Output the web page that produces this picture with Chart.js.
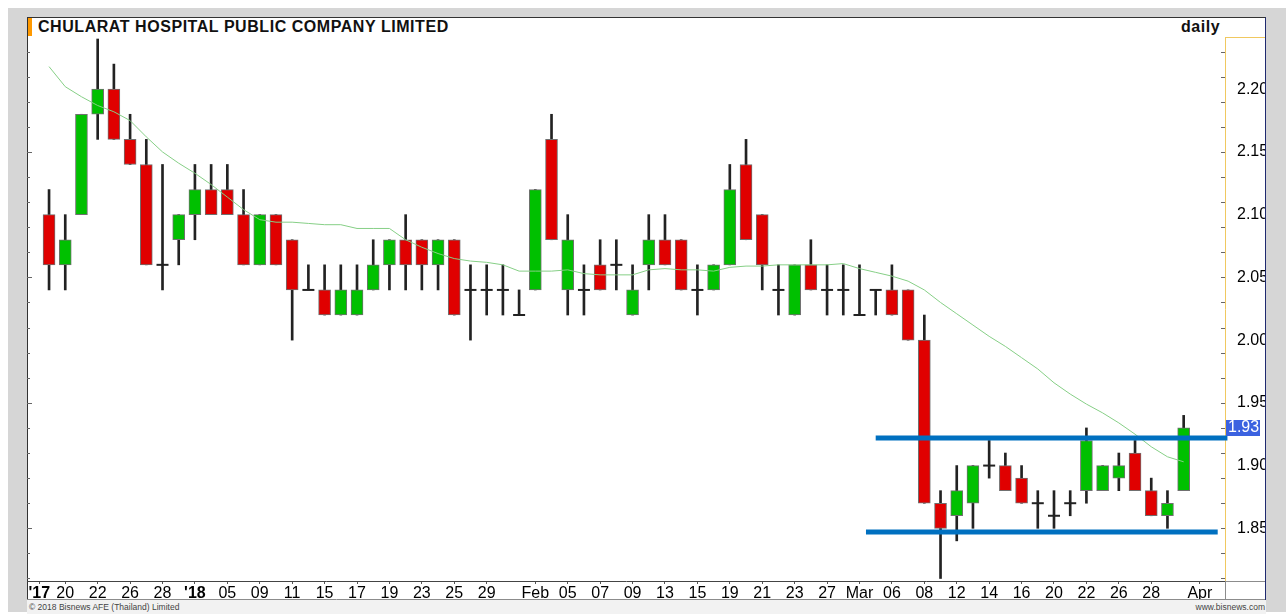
<!DOCTYPE html>
<html>
<head>
<meta charset="utf-8">
<title>CHULARAT HOSPITAL PUBLIC COMPANY LIMITED - daily</title>
<style>
  body { margin: 0; background: #fff; font-family: "Liberation Sans", Arial, sans-serif; }
  #frame { position: absolute; left: 8px; top: 8px; width: 1278px; height: 604px; background: #d6d6d6; }
  #panel { position: absolute; left: 27px; top: 17px; width: 1237px; height: 582px; background: #fff;
           border-top: 1px solid #333; border-left: 1px solid #333; border-right: 1px solid #1f2a70; }
  #bar { position: absolute; left: 28px; top: 18px; width: 4px; height: 18px; background: #ff9900; }
  .head { position: absolute; top: 18px; line-height: 18px; font-size: 16px; font-weight: bold;
          letter-spacing: 0.55px; color: #111; white-space: nowrap; }
  #foot { position: absolute; left: 27px; top: 600px; width: 1239px; height: 14px; background: #f2f2f2;
          font-size: 8.5px; line-height: 14px; color: #444; }
  #foot span { position: absolute; top: 0; }
  canvas { position: absolute; left: 0; top: 0; }
</style>
</head>
<body>
<div id="frame"></div>
<div id="panel"></div>
<div id="bar"></div>
<div class="head" style="left:38px">CHULARAT HOSPITAL PUBLIC COMPANY LIMITED</div>
<div class="head" style="left:1181px">daily</div>
<div id="foot"><span style="left:2px">© 2018 Bisnews AFE (Thailand) Limited</span><span style="right:1px">www.bisnews.com</span></div>
<canvas id="chart" width="1286" height="614"></canvas>
<script src="https://cdn.jsdelivr.net/npm/chart.js"></script>
<script>
// daily OHLC, 19 Dec 2017 .. 30 Mar 2018 (one entry per trading day)
const opens = [2.10,2.06,2.10,2.18,2.20,2.16,2.14,2.06,2.08,2.10,
  2.12,2.12,2.10,2.06,2.10,2.08,2.04,2.04,2.02,2.02,
  2.04,2.06,2.08,2.08,2.06,2.08,2.04,2.04,2.04,2.02,
  2.04,2.16,2.04,2.04,2.06,2.06,2.02,2.06,2.08,2.08,
  2.04,2.04,2.06,2.14,2.10,2.04,2.02,2.06,2.04,2.04,
  2.02,2.04,2.04,2.04,2.00,1.87,1.86,1.87,1.90,1.90,
  1.89,1.87,1.86,1.87,1.88,1.88,1.89,1.91,1.88,1.86,1.88];
const highs = [2.12,2.10,2.18,2.24,2.22,2.18,2.16,2.14,2.10,2.14,
  2.14,2.14,2.12,2.10,2.10,2.08,2.06,2.06,2.06,2.06,
  2.08,2.08,2.10,2.08,2.08,2.08,2.06,2.06,2.06,2.04,
  2.12,2.18,2.10,2.06,2.08,2.08,2.06,2.10,2.10,2.08,
  2.06,2.06,2.14,2.16,2.10,2.06,2.06,2.08,2.06,2.06,
  2.06,2.04,2.06,2.04,2.02,1.88,1.90,1.90,1.92,1.91,
  1.90,1.88,1.88,1.88,1.93,1.90,1.91,1.92,1.89,1.88,1.94];
const lows = [2.04,2.04,2.10,2.16,2.16,2.14,2.06,2.04,2.06,2.08,
  2.10,2.10,2.06,2.06,2.06,2.00,2.04,2.02,2.02,2.02,
  2.04,2.04,2.04,2.04,2.04,2.02,2.00,2.02,2.02,2.02,
  2.04,2.08,2.02,2.02,2.04,2.04,2.02,2.04,2.06,2.04,
  2.02,2.04,2.06,2.08,2.04,2.02,2.02,2.04,2.02,2.02,
  2.02,2.02,2.02,2.00,1.87,1.81,1.84,1.85,1.89,1.88,
  1.87,1.85,1.85,1.86,1.87,1.88,1.88,1.88,1.86,1.85,1.88];
const closes = [2.06,2.08,2.18,2.20,2.16,2.14,2.06,2.06,2.10,2.12,
  2.10,2.10,2.06,2.10,2.06,2.04,2.04,2.02,2.04,2.04,
  2.06,2.08,2.06,2.06,2.08,2.02,2.04,2.04,2.04,2.02,
  2.12,2.08,2.08,2.04,2.04,2.06,2.04,2.08,2.06,2.04,
  2.04,2.06,2.12,2.08,2.06,2.04,2.06,2.04,2.04,2.04,
  2.02,2.04,2.02,2.00,1.87,1.85,1.88,1.90,1.90,1.88,
  1.87,1.87,1.86,1.87,1.92,1.90,1.90,1.88,1.86,1.87,1.93];
// moving average line
const movAvg = [2.218,2.202,2.194,2.187,2.182,2.175,2.162,2.150,2.141,2.133,
  2.124,2.114,2.104,2.096,2.094,2.094,2.093,2.092,2.092,2.089,
  2.089,2.089,2.080,2.074,2.069,2.065,2.063,2.062,2.060,2.055,
  2.055,2.055,2.056,2.053,2.052,2.052,2.052,2.056,2.057,2.056,
  2.056,2.055,2.058,2.059,2.059,2.060,2.060,2.060,2.060,2.061,
  2.057,2.054,2.051,2.047,2.040,2.030,2.021,2.012,2.003,1.995,
  1.986,1.977,1.966,1.957,1.949,1.942,1.934,1.925,1.915,1.907,1.903];

// hand-drawn resistance / support lines (x in trading-day index)
const upperX = [51.0, 72.7], upperY = [1.922, 1.922];
const lowerX = [50.4, 72.1], lowerY = [1.847, 1.847];

// x axis labels (trading-day index -> text)
const tickPos = [-0.6,1,3,5,7,9,11,13,15,17,19,21,23,25,27,30,32,34,36,38,40,42,44,46,48,50,52,54,56,58,60,62,64,66,68,71];
const tickText = ["'17","20","22","26","28","'18","05","09","11","15","17","19","23","25","29","Feb","05","07","09","13","15","19","21","23","27","Mar","06","08","12","14","16","20","22","26","28","Apr"];
// price axis
const yLabels = [1.85,1.90,1.95,2.00,2.05,2.10,2.15,2.20];
const minorTicks = [2.23,2.21,2.19,2.17,2.15,2.13,2.11,2.09,2.07,2.05,2.03,2.01,1.99,1.97,1.95,1.93,1.91,1.89,1.87,1.85,1.83,1.81];

const UP = '#00c000', DOWN = '#e00000';
const FONT = '"Liberation Sans", Arial, sans-serif';
const idx = closes.map((c, i) => i);

const extras = {
  id: 'extras',
  afterDraw(chart) {
    const { ctx, chartArea: a, scales: { x, y } } = chart;
    ctx.save();
    ctx.lineWidth = 1;
    // small ticks on both sides of the plot
    ctx.strokeStyle = '#666';
    minorTicks.forEach(v => {
      const py = Math.round(y.getPixelForValue(v)) + 0.5;
      const len = Math.round(v * 100) % 5 === 0 ? 5 : 3;
      ctx.beginPath();
      ctx.moveTo(a.left, py); ctx.lineTo(a.left + len, py);
      ctx.moveTo(a.right - 4, py); ctx.lineTo(a.right, py);
      ctx.stroke();
    });
    // right column frame
    ctx.strokeStyle = '#f0c860';
    ctx.beginPath();
    ctx.moveTo(a.right, a.top + 0.5); ctx.lineTo(y.right, a.top + 0.5);
    ctx.stroke();
    ctx.strokeStyle = '#8c8c8c';
    ctx.beginPath();
    ctx.moveTo(a.right, a.bottom + 0.5); ctx.lineTo(y.right, a.bottom + 0.5);
    ctx.moveTo(a.right + 0.5, a.bottom); ctx.lineTo(a.right + 0.5, x.bottom);
    ctx.moveTo(a.left, x.bottom - 0.5); ctx.lineTo(y.right, x.bottom - 0.5);
    ctx.stroke();
    // last price marker
    const last = closes[closes.length - 1];
    const py = y.getPixelForValue(last);
    ctx.fillStyle = '#3b62e0';
    ctx.fillRect(a.right + 1, Math.round(py) - 8, 34, 16);
    ctx.fillStyle = '#fff';
    ctx.font = '16px ' + FONT;
    ctx.textBaseline = 'middle';
    ctx.textAlign = 'left';
    ctx.fillText(last.toFixed(2), a.right + 3, py);
    ctx.restore();
  }
};

new Chart(document.getElementById('chart'), {
  type: 'bar',
  data: {
    datasets: [
      {
        type: 'line', label: 'resistance', order: 0, clip: false,
        data: upperX.map((v, i) => ({ x: v, y: upperY[i] })),
        borderColor: '#0070c0', borderWidth: 5, pointRadius: 0, borderCapStyle: 'butt'
      },
      {
        type: 'line', label: 'support', order: 0, clip: false,
        data: lowerX.map((v, i) => ({ x: v, y: lowerY[i] })),
        borderColor: '#0070c0', borderWidth: 5, pointRadius: 0, borderCapStyle: 'butt'
      },
      {
        type: 'line', label: 'MA', order: 1,
        data: idx.map(i => ({ x: i, y: movAvg[i] })),
        borderColor: '#86cf86', borderWidth: 1, pointRadius: 0, tension: 0
      },
      {
        type: 'line', label: 'doji', order: 2, showLine: false,
        data: idx.filter(i => opens[i] === closes[i]).map(i => ({ x: i, y: closes[i] })),
        pointStyle: 'line', pointRadius: 6, pointBorderWidth: 2, pointBorderColor: '#222'
      },
      {
        type: 'bar', label: 'body', order: 3, grouped: false,
        data: idx.filter(i => opens[i] !== closes[i]).map(i => ({ x: i, y: [opens[i], closes[i]] })),
        backgroundColor: c => (c.raw && c.raw.y[1] > c.raw.y[0]) ? UP : DOWN,
        borderColor: '#707070', borderWidth: 1, borderSkipped: false, barThickness: 12
      },
      {
        type: 'bar', label: 'wick', order: 4, grouped: false,
        data: idx.map(i => ({ x: i, y: [lows[i], highs[i]] })),
        backgroundColor: '#222', borderWidth: 0, barThickness: 2
      }
    ]
  },
  options: {
    responsive: false,
    animation: false,
    devicePixelRatio: 1,
    layout: { padding: { left: 27, right: 21, top: 37, bottom: 14 } },
    plugins: { legend: { display: false }, tooltip: { enabled: false }, title: { display: false } },
    scales: {
      x: {
        type: 'linear', position: 'bottom', min: -1.36, max: 72.55, offset: false,
        grid: { display: true, drawOnChartArea: false, drawTicks: true, tickLength: 3, color: '#555', offset: false },
        border: { display: true, color: '#444', width: 1 },
        afterBuildTicks: ax => { ax.ticks = tickPos.map(v => ({ value: v })); },
        afterFit: ax => { ax.height = 19; ax.paddingLeft = 0; ax.paddingRight = 0; },
        ticks: {
          autoSkip: false, maxRotation: 0, minRotation: 0, padding: 0, color: '#000',
          font: c => ({ family: FONT, size: 16, weight: (tickText[c.index] || '').startsWith("'") ? 'bold' : 'normal' }),
          callback: (v, i) => tickText[i]
        }
      },
      y: {
        type: 'linear', position: 'right', min: 1.808, max: 2.2416, beginAtZero: false,
        grid: { display: false },
        border: { display: true, color: '#f0c860', width: 1 },
        afterBuildTicks: ax => { ax.ticks = yLabels.map(v => ({ value: v })); },
        afterFit: ax => { ax.width = 40; ax.paddingTop = 0; ax.paddingBottom = 0; },
        ticks: {
          padding: 4, color: '#000', font: { family: FONT, size: 16 },
          callback: v => Number(v).toFixed(2)
        }
      }
    }
  },
  plugins: [extras]
});
</script>
</body>
</html>
